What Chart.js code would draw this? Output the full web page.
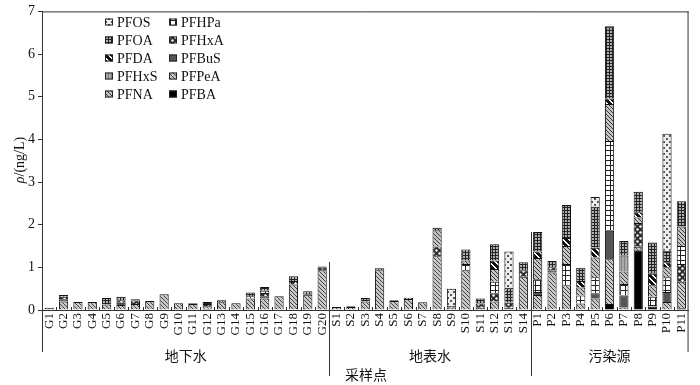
<!DOCTYPE html>
<html>
<head>
<meta charset="utf-8">
<script src="https://cdn.jsdelivr.net/npm/chart.js@4.4.1/dist/chart.umd.min.js"></script>
<style>
html, body { margin: 0; padding: 0; background: #fff; }
</style>
</head>
<body>
<canvas id="mychart" width="700" height="385"></canvas>
<script>
// sampling sites
const sites = ['G1','G2','G3','G4','G5','G6','G7','G8','G9','G10','G11','G12','G13','G14','G15','G16','G17','G18','G19','G20',
  'S1','S2','S3','S4','S5','S6','S7','S8','S9','S10','S11','S12','S13','S14',
  'P1','P2','P3','P4','P5','P6','P7','P8','P9','P10','P11'];
const groups = ['地下水', '地表水', '污染源'];
const groupSizes = [20, 14, 11];
const yTicks = [0, 1, 2, 3, 4, 5, 6, 7];

// concentrations (ng/L), G1..G20, S1..S14, P1..P11
const PFBA  = [0,0,0,0,0,0,0,0.02,0,0,0,0.03,0,0,0,0,0,0,0,0,
  0,0,0,0,0,0,0,0,0,0,0,0,0,0,
  0,0,0,0,0,0.14,0,1.4,0.08,0,0.04];
const PFPeA = [0.05,0.2,0.19,0.19,0.13,0.12,0.14,0.19,0.37,0.16,0.14,0.06,0.18,0.16,0.27,0.27,0.32,0.6,0.36,0.93,
  0.07,0.07,0.2,0.93,0.21,0.26,0.18,1.26,0.06,0.93,0.05,0.2,0.05,0.78,
  0.35,0.88,0.58,0.15,0.27,1.05,0.06,0.08,0,0.19,0.62];
const PFBuS = [0,0.05,0,0,0,0.05,0,0,0,0,0,0,0,0,0,0.05,0,0,0,0,
  0,0,0,0,0,0,0,0,0,0,0,0,0,0,
  0.07,0.04,0,0,0.12,0.67,0.28,0,0,0.23,0];
const PFHxA = [0,0.06,0,0,0,0.06,0.08,0,0,0,0,0.05,0,0,0,0.08,0,0.08,0,0.06,
  0,0,0,0,0,0,0,0.23,0.04,0,0.1,0.19,0.12,0.15,
  0,0.08,0,0,0,0,0,0.56,0,0,0.42];
const PFHpA = [0,0,0,0,0,0,0,0,0,0,0,0,0,0,0.05,0.05,0,0,0,0,
  0,0,0,0,0,0,0,0,0,0.15,0,0.27,0,0,
  0.3,0,0.5,0.19,0.38,2.1,0.27,0,0.23,0.35,0.42];
const PFNA  = [0,0,0,0,0,0,0,0,0,0,0,0,0,0,0,0,0,0,0,0,
  0,0,0,0,0,0,0,0.38,0,0.08,0,0.3,0,0,
  0.5,0,0.42,0.19,0.46,0.87,0.29,0.13,0.27,0.23,0.46];
const PFHxS = [0,0,0,0,0,0,0,0,0,0,0,0,0,0,0,0,0,0,0,0,
  0,0,0,0,0,0,0,0,0,0,0,0,0,0,
  0,0,0,0,0,0,0.38,0,0,0,0];
const PFDA  = [0,0,0,0,0,0,0,0,0,0,0,0,0,0,0,0,0,0,0,0,
  0,0,0,0,0,0,0,0,0,0,0,0.2,0,0,
  0.15,0,0.19,0.15,0.23,0.13,0,0.12,0.27,0.12,0];
const PFOA  = [0,0.04,0,0,0.15,0.08,0.03,0,0,0,0.02,0.05,0.05,0,0.09,0.09,0,0.11,0.08,0.03,
  0,0.02,0.08,0.05,0.02,0.03,0,0.06,0,0.26,0.12,0.38,0.35,0.19,
  0.46,0.15,0.77,0.31,0.96,1.69,0.34,0.48,0.73,0.27,0.59];
const PFOS  = [0,0,0,0,0,0,0,0,0,0,0,0,0,0,0,0,0,0,0,0,
  0,0,0,0,0,0,0,0,0.4,0,0,0,0.85,0,
  0,0,0,0,0.23,0,0,0,0,2.74,0];

// make a small repeating fill
function makePattern(size, draw) {
  const c = document.createElement('canvas');
  c.width = size; c.height = size;
  const g = c.getContext('2d');
  draw(g, size);
  return document.createElement('canvas').getContext('2d').createPattern(c, 'repeat');
}

function diag(g, s, color, w) {
  g.fillStyle = color;
  for (let i = 0; i < s; i++) {
    for (let k = 0; k < w; k++) g.fillRect(i, (i + k) % s, 1, 1);
  }
}

const fills = {
  PFOS: makePattern(6, (g, s) => {
    g.fillStyle = '#eeeeee'; g.fillRect(0, 0, s, s);
    g.fillStyle = '#555'; g.fillRect(0, 0, 2, 2); g.fillRect(3, 3, 2, 2);
  }),
  PFOA: makePattern(3, (g, s) => {
    g.fillStyle = '#222'; g.fillRect(0, 0, s, s);
    g.fillStyle = '#b0b0b0'; g.fillRect(1, 1, 2, 2);
  }),
  PFDA: makePattern(6, (g, s) => {
    g.fillStyle = '#111'; g.fillRect(0, 0, s, s);
    diag(g, s, '#fff', 2);
  }),
  PFHxS: makePattern(3, (g, s) => {
    g.fillStyle = '#aaa'; g.fillRect(0, 0, s, s);
    g.fillStyle = '#808080'; g.fillRect(0, 0, 1, s);
  }),
  PFNA: makePattern(4, (g, s) => {
    g.fillStyle = '#c4c4c4'; g.fillRect(0, 0, s, s);
    diag(g, s, '#3a3a3a', 1);
  }),
  PFHpA: makePattern(5, (g, s) => {
    g.fillStyle = '#fff'; g.fillRect(0, 0, s, s);
    g.fillStyle = '#222'; g.fillRect(0, 0, s, 1); g.fillRect(0, 0, 1, s);
  }),
  PFHxA: makePattern(6, (g, s) => {
    g.fillStyle = '#2a2a2a'; g.fillRect(0, 0, s, s);
    g.fillStyle = '#fff';
    g.beginPath(); g.arc(1.5, 1.5, 1.2, 0, Math.PI * 2); g.fill();
    g.beginPath(); g.arc(4.5, 4.5, 1.2, 0, Math.PI * 2); g.fill();
  }),
  PFBuS: '#555',
  PFPeA: makePattern(4, (g, s) => {
    g.fillStyle = '#c8c8c8'; g.fillRect(0, 0, s, s);
    diag(g, s, '#444', 1);
  }),
  PFBA: '#000'
};

// stacking order, bottom first
const series = [
  ['PFBA', PFBA], ['PFPeA', PFPeA], ['PFBuS', PFBuS], ['PFHxA', PFHxA], ['PFHPa', PFHpA],
  ['PFNA', PFNA], ['PFHxS', PFHxS], ['PFDA', PFDA], ['PFOA', PFOA], ['PFOS', PFOS]
];
const fillKey = { PFHPa: 'PFHpA' };

const datasets = series.map(([name, vals]) => ({
  label: name,
  data: vals.map(v => v > 0 ? v : null),
  backgroundColor: fills[fillKey[name] || name],
  borderColor: '#111',
  borderWidth: 1,
  categoryPercentage: 1,
  barPercentage: 0.64
}));

// legend layout: two columns, five rows
const legendCols = [['PFOS','PFOA','PFDA','PFHxS','PFNA'], ['PFHPa','PFHxA','PFBuS','PFPeA','PFBA']];

const serif = '"Liberation Serif", "Times New Roman", serif';
const cjk = '"Liberation Serif", "Noto Sans CJK SC", serif';

const extras = {
  id: 'extras',
  afterDraw(chart) {
    const ctx = chart.ctx;
    const a = chart.chartArea;
    const xs = chart.scales.x;
    const step = (a.right - a.left) / sites.length;
    ctx.save();
    ctx.strokeStyle = '#333';
    ctx.lineWidth = 1;

    // frame
    ctx.beginPath();
    ctx.moveTo(a.left + 0.5, a.bottom); ctx.lineTo(a.left + 0.5, 352);
    ctx.moveTo(a.left, a.top + 0.5); ctx.lineTo(a.right, a.top + 0.5);
    ctx.moveTo(a.right - 0.5, a.top); ctx.lineTo(a.right - 0.5, 352);
    ctx.stroke();

    // small ticks between sites
    ctx.beginPath();
    for (let i = 1; i < sites.length; i++) {
      const x = Math.round(a.left + i * step) + 0.5;
      ctx.moveTo(x, a.bottom); ctx.lineTo(x, a.bottom - 3);
    }
    ctx.stroke();

    // group separators and names
    const sepTop = [262, 232];
    let start = 0;
    ctx.fillStyle = '#111';
    ctx.textAlign = 'center';
    ctx.textBaseline = 'middle';
    ctx.font = '14px ' + cjk;
    groups.forEach((g, gi) => {
      const end = start + groupSizes[gi];
      const cx = (xs.getPixelForValue(start) + xs.getPixelForValue(end - 1)) / 2;
      ctx.fillText(g, cx, 357);
      if (gi < groups.length - 1) {
        const x = Math.round(a.left + end * step) + 0.5;
        ctx.beginPath();
        ctx.moveTo(x, sepTop[gi]); ctx.lineTo(x, 376);
        ctx.stroke();
      }
      start = end;
    });

    // x title
    ctx.fillText('采样点', 366, 376);

    // y title
    ctx.save();
    ctx.translate(20, 160);
    ctx.rotate(-Math.PI / 2);
    ctx.textAlign = 'left';
    ctx.font = 'italic 14px ' + serif;
    const rho = 'ρ';
    const rest = '/(ng/L)';
    const w1 = ctx.measureText(rho).width;
    ctx.font = '14px ' + serif;
    const w2 = ctx.measureText(rest).width;
    ctx.font = 'italic 14px ' + serif;
    ctx.fillText(rho, -(w1 + w2) / 2, 0);
    ctx.font = '14px ' + serif;
    ctx.fillText(rest, -(w1 + w2) / 2 + w1, 0);
    ctx.restore();

    // legend
    const colX = [105, 169];
    const rowY = [22, 40, 58, 76, 94];
    ctx.font = '14px ' + serif;
    ctx.textAlign = 'left';
    legendCols.forEach((col, ci) => {
      col.forEach((name, ri) => {
        const ds = datasets.find(d => d.label === name);
        const x = colX[ci], y = rowY[ri];
        ctx.fillStyle = ds.backgroundColor;
        ctx.fillRect(x, y - 3.5, 8, 7);
        ctx.strokeStyle = '#222';
        ctx.strokeRect(x + 0.5, y - 3, 7, 6);
        ctx.fillStyle = '#111';
        ctx.fillText(name, x + 12, y + 1);
      });
    });
    ctx.restore();
  }
};

const ctx = document.getElementById('mychart');

new Chart(ctx, {
  type: 'bar',
  data: { labels: sites, datasets: datasets },
  options: {
    responsive: false,
    animation: false,
    devicePixelRatio: 1,
    layout: { padding: { top: 8, right: 3, left: 0, bottom: 0 } },
    plugins: {
      legend: { display: false },
      tooltip: { enabled: false }
    },
    scales: {
      x: {
        stacked: true,
        afterFit: s => { s.height = 75; },
        grid: { display: false, drawTicks: false },
        border: { display: true, color: '#333', width: 1 },
        ticks: {
          autoSkip: false,
          minRotation: 90,
          maxRotation: 90,
          padding: 3,
          color: '#111',
          font: { family: serif, size: 13 }
        }
      },
      y: {
        stacked: true,
        min: 0,
        max: 7,
        afterFit: s => { s.width = 42; },
        afterBuildTicks: s => { s.ticks = yTicks.map(v => ({ value: v })); },
        grid: { drawOnChartArea: false, tickLength: 4, color: '#333' },
        border: { display: true, color: '#333', width: 1 },
        ticks: {
          padding: 3,
          color: '#111',
          font: { family: serif, size: 14 }
        }
      }
    }
  },
  plugins: [extras]
});
</script>
</body>
</html>
